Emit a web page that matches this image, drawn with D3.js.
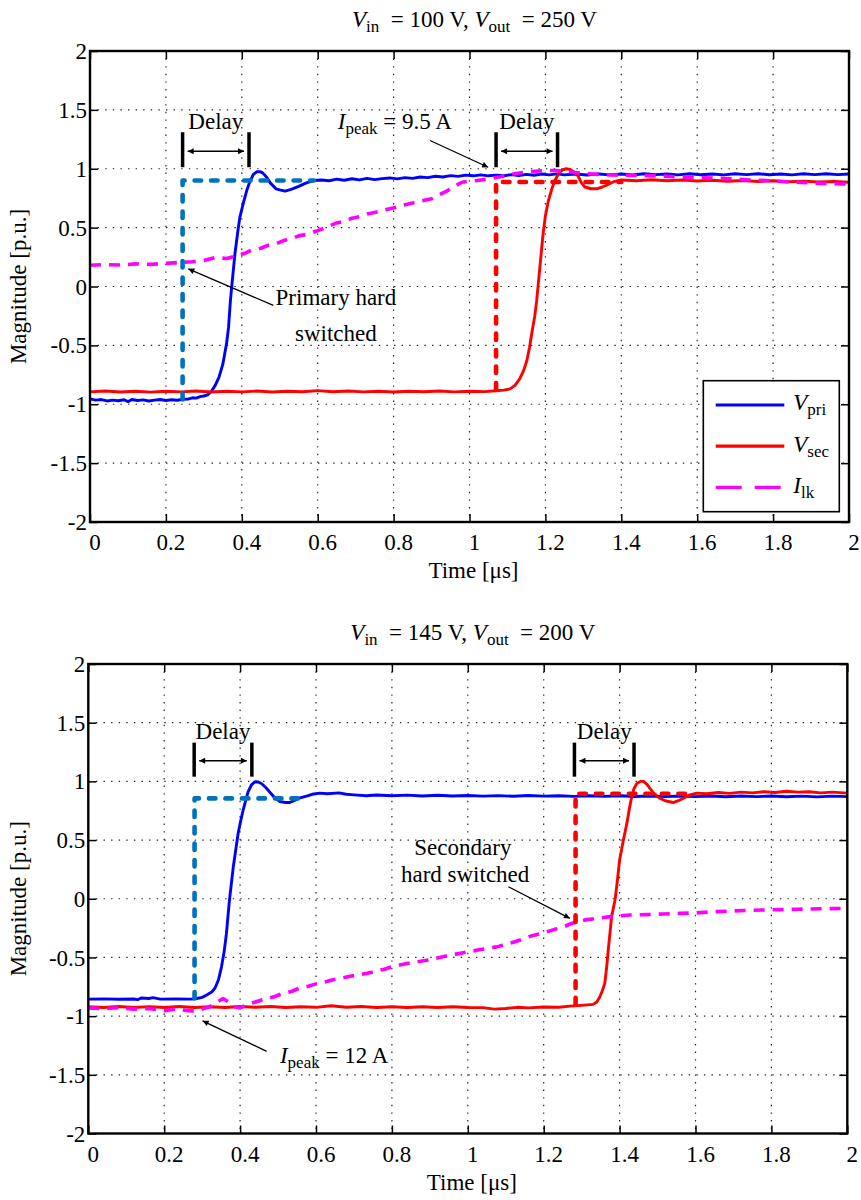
<!DOCTYPE html>
<html>
<head>
<meta charset="utf-8">
<script src="https://cdn.jsdelivr.net/npm/d3@7"></script>
<style>
  html, body { margin: 0; padding: 0; background: #fff; }
  svg { display: block; font-family: "Liberation Serif", "Times New Roman", serif; }
</style>
</head>
<body>
<svg id="fig" width="861" height="1200"></svg>
<script>
// ---- axis ticks ----
const xTicks = [0, 0.2, 0.4, 0.6, 0.8, 1, 1.2, 1.4, 1.6, 1.8, 2];
const yTicks = [-2, -1.5, -1, -0.5, 0, 0.5, 1, 1.5, 2];

// ---- operating points ----
const vinValues = [100, 145];
const voutValues = [250, 200];
const ipeakValues = [9.5, 12];

// ---- case 1: Vin = 100 V, Vout = 250 V  (time in us, magnitude in p.u.) ----
const topPri = [
  [0.00,-0.955],[0.015,-0.965],[0.03,-0.96],[0.045,-0.972],[0.06,-0.965],[0.075,-0.97],[0.09,-0.962],
  [0.10,-0.978],[0.11,-0.96],[0.125,-0.968],[0.14,-0.963],[0.155,-0.972],[0.17,-0.965],[0.185,-0.96],
  [0.20,-0.968],[0.215,-0.962],[0.23,-0.966],[0.245,-0.958],[0.26,-0.955],[0.27,-0.945],[0.28,-0.948],
  [0.29,-0.935],[0.30,-0.93],[0.31,-0.92],[0.32,-0.89],[0.33,-0.84],[0.34,-0.77],
  [0.35,-0.66],[0.36,-0.48],[0.365,-0.35],[0.37,-0.12],[0.375,0.05],[0.382,0.28],[0.39,0.48],
  [0.395,0.59],[0.405,0.72],[0.413,0.815],[0.42,0.88],[0.43,0.95],[0.44,0.975],[0.448,0.975],
  [0.455,0.965],[0.465,0.93],[0.475,0.88],[0.49,0.83],[0.50,0.82],[0.514,0.81],[0.53,0.825],
  [0.55,0.85],[0.57,0.88],[0.59,0.90],[0.61,0.905],[0.63,0.898],[0.65,0.912],[0.67,0.902],
  [0.69,0.915],[0.71,0.905],[0.73,0.918],[0.75,0.908],[0.77,0.916],[0.79,0.922],[0.81,0.914],
  [0.83,0.925],[0.85,0.918],[0.87,0.93],[0.89,0.925],[0.91,0.936],[0.93,0.93],[0.95,0.942],
  [0.97,0.935],[0.99,0.946],[1.01,0.94],[1.03,0.948],[1.05,0.94],[1.07,0.946],[1.09,0.94],
  [1.11,0.95],[1.13,0.943],[1.15,0.952],[1.17,0.945],[1.19,0.955],[1.21,0.948],[1.23,0.956],
  [1.25,0.948],[1.28,0.955],[1.31,0.947],[1.34,0.956],[1.37,0.948],[1.40,0.955],[1.43,0.947],
  [1.46,0.957],[1.49,0.95],[1.52,0.956],[1.55,0.948],[1.58,0.957],[1.61,0.949],[1.64,0.956],
  [1.67,0.948],[1.70,0.957],[1.73,0.95],[1.76,0.958],[1.79,0.949],[1.82,0.956],[1.85,0.948],
  [1.88,0.957],[1.91,0.95],[1.94,0.958],[1.97,0.95],[2.00,0.955]
];
const topSec = [
  [0.00,-0.895],[0.04,-0.888],[0.08,-0.896],[0.12,-0.89],[0.16,-0.897],[0.20,-0.889],[0.24,-0.895],
  [0.28,-0.888],[0.32,-0.896],[0.36,-0.89],[0.40,-0.895],[0.44,-0.888],[0.48,-0.896],[0.52,-0.89],
  [0.56,-0.894],[0.60,-0.884],[0.64,-0.894],[0.68,-0.888],[0.72,-0.895],[0.76,-0.89],[0.80,-0.896],
  [0.84,-0.889],[0.88,-0.894],[0.92,-0.888],[0.96,-0.895],[1.00,-0.89],[1.04,-0.893],
  [1.07,-0.885],[1.09,-0.88],[1.107,-0.87],[1.12,-0.84],[1.133,-0.78],[1.143,-0.71],
  [1.151,-0.63],[1.158,-0.52],[1.164,-0.40],[1.172,-0.25],[1.177,-0.12],[1.185,0.15],[1.194,0.45],
  [1.20,0.60],[1.208,0.73],[1.217,0.83],[1.225,0.90],[1.235,0.96],[1.245,0.99],[1.255,1.0],
  [1.265,0.995],[1.276,0.97],[1.286,0.94],[1.295,0.88],[1.304,0.845],[1.32,0.83],[1.335,0.83],
  [1.35,0.845],[1.361,0.86],[1.38,0.89],[1.40,0.905],[1.44,0.898],[1.48,0.906],[1.52,0.898],
  [1.56,0.904],[1.60,0.896],[1.64,0.902],[1.68,0.894],[1.72,0.9],[1.76,0.892],[1.80,0.898],
  [1.84,0.89],[1.88,0.895],[1.92,0.887],[1.96,0.892],[2.00,0.885]
];
const topLk = [
  [0.00,0.18],[0.04,0.186],[0.08,0.182],[0.12,0.192],[0.16,0.188],[0.20,0.196],[0.24,0.205],
  [0.27,0.21],[0.30,0.22],[0.33,0.245],[0.36,0.238],[0.38,0.255],[0.41,0.285],[0.43,0.315],
  [0.45,0.325],[0.47,0.35],[0.49,0.362],[0.51,0.39],[0.53,0.405],[0.55,0.43],[0.575,0.445],
  [0.60,0.475],[0.625,0.505],[0.65,0.54],[0.67,0.552],[0.69,0.58],[0.71,0.592],[0.73,0.615],
  [0.75,0.628],[0.77,0.645],[0.79,0.66],[0.81,0.675],[0.83,0.695],[0.85,0.71],[0.875,0.728],
  [0.90,0.745],[0.92,0.78],[0.94,0.81],[0.96,0.85],[0.98,0.885],[1.00,0.895],[1.02,0.90],
  [1.054,0.915],[1.085,0.935],[1.115,0.955],[1.14,0.968],[1.16,0.975],[1.20,0.985],[1.23,0.985],
  [1.26,0.975],[1.30,0.96],[1.35,0.95],[1.40,0.945],[1.45,0.942],[1.50,0.94],[1.55,0.93],
  [1.60,0.925],[1.65,0.92],[1.69,0.915],[1.74,0.905],[1.78,0.90],[1.82,0.892],[1.86,0.886],
  [1.93,0.875],[2.00,0.87]
];
const topPriGate = [[0.244,-0.96],[0.244,0.90],[0.59,0.90]];
const topSecGate = [[1.07,-0.875],[1.07,0.888],[1.40,0.888]];
const topDelays = [[0.244, 0.419], [1.07, 1.232]];

// ---- case 2: Vin = 145 V, Vout = 200 V ----
const botPri = [
  [0.00,-0.855],[0.04,-0.853],[0.08,-0.856],[0.12,-0.854],[0.13,-0.86],[0.14,-0.845],[0.16,-0.85],
  [0.17,-0.842],[0.19,-0.855],[0.23,-0.853],[0.27,-0.855],[0.286,-0.85],[0.30,-0.84],[0.312,-0.82],
  [0.325,-0.795],[0.334,-0.76],[0.343,-0.69],[0.351,-0.58],[0.358,-0.45],[0.364,-0.295],[0.368,-0.15],
  [0.372,-0.01],[0.377,0.13],[0.382,0.27],[0.39,0.45],[0.395,0.56],[0.402,0.67],[0.408,0.756],
  [0.415,0.84],[0.421,0.91],[0.43,0.97],[0.439,0.997],[0.448,0.995],[0.457,0.98],[0.467,0.95],
  [0.478,0.91],[0.49,0.865],[0.505,0.827],[0.52,0.82],[0.531,0.82],[0.545,0.84],[0.558,0.86],
  [0.575,0.875],[0.59,0.89],[0.61,0.90],[0.63,0.895],[0.66,0.902],[0.68,0.89],[0.70,0.885],
  [0.733,0.878],[0.76,0.884],[0.80,0.878],[0.84,0.883],[0.88,0.876],[0.92,0.882],[0.96,0.875],
  [1.00,0.88],[1.04,0.874],[1.08,0.879],[1.12,0.873],[1.16,0.88],[1.20,0.874],[1.24,0.878],
  [1.28,0.872],[1.32,0.878],[1.36,0.872],[1.40,0.877],[1.44,0.871],[1.48,0.876],[1.52,0.87],
  [1.56,0.876],[1.60,0.87],[1.64,0.875],[1.68,0.869],[1.72,0.875],[1.76,0.87],[1.80,0.875],
  [1.84,0.869],[1.88,0.874],[1.92,0.868],[1.96,0.874],[2.00,0.87]
];
const botSec = [
  [0.00,-0.92],[0.04,-0.926],[0.08,-0.918],[0.12,-0.927],[0.16,-0.919],[0.20,-0.926],[0.24,-0.918],
  [0.28,-0.927],[0.32,-0.92],[0.36,-0.926],[0.40,-0.918],[0.44,-0.925],[0.48,-0.918],[0.52,-0.926],
  [0.56,-0.92],[0.60,-0.925],[0.64,-0.912],[0.68,-0.924],[0.72,-0.918],[0.76,-0.926],[0.80,-0.92],
  [0.84,-0.926],[0.88,-0.92],[0.92,-0.927],[0.96,-0.92],[1.00,-0.926],[1.04,-0.928],[1.07,-0.94],
  [1.10,-0.935],[1.13,-0.925],[1.16,-0.93],[1.20,-0.922],[1.24,-0.924],[1.27,-0.915],[1.30,-0.908],
  [1.33,-0.90],[1.34,-0.88],[1.348,-0.835],[1.355,-0.78],[1.361,-0.72],[1.366,-0.58],[1.37,-0.44],
  [1.375,-0.28],[1.379,-0.15],[1.388,-0.01],[1.394,0.15],[1.40,0.33],[1.41,0.50],[1.419,0.64],
  [1.426,0.77],[1.432,0.87],[1.438,0.94],[1.445,0.98],[1.455,1.0],[1.463,1.0],[1.472,0.975],
  [1.48,0.94],[1.49,0.90],[1.506,0.856],[1.52,0.835],[1.541,0.82],[1.555,0.835],[1.568,0.856],
  [1.585,0.885],[1.603,0.90],[1.63,0.895],[1.66,0.905],[1.69,0.898],[1.72,0.908],[1.75,0.902],
  [1.78,0.912],[1.81,0.905],[1.84,0.916],[1.87,0.908],[1.90,0.912],[1.93,0.902],[1.96,0.908],
  [2.00,0.90]
];
const botLk = [
  [0.00,-0.93],[0.04,-0.937],[0.08,-0.928],[0.12,-0.94],[0.16,-0.935],[0.20,-0.955],[0.23,-0.94],
  [0.25,-0.948],[0.28,-0.958],[0.30,-0.94],[0.32,-0.92],[0.34,-0.88],[0.355,-0.85],[0.37,-0.88],
  [0.385,-0.92],[0.40,-0.93],[0.42,-0.90],[0.44,-0.88],[0.47,-0.85],[0.49,-0.835],[0.51,-0.81],
  [0.535,-0.79],[0.558,-0.76],[0.58,-0.745],[0.60,-0.725],[0.62,-0.712],[0.645,-0.69],[0.67,-0.675],
  [0.69,-0.66],[0.71,-0.65],[0.733,-0.636],[0.76,-0.615],[0.78,-0.60],[0.80,-0.58],[0.82,-0.565],
  [0.86,-0.54],[0.90,-0.52],[0.94,-0.49],[0.988,-0.46],[1.03,-0.435],[1.076,-0.41],[1.10,-0.39],
  [1.12,-0.37],[1.14,-0.35],[1.164,-0.32],[1.19,-0.30],[1.21,-0.28],[1.23,-0.26],[1.252,-0.24],
  [1.27,-0.215],[1.287,-0.196],[1.31,-0.18],[1.34,-0.167],[1.38,-0.15],[1.427,-0.139],[1.47,-0.135],
  [1.514,-0.13],[1.56,-0.125],[1.603,-0.12],[1.65,-0.11],[1.69,-0.105],[1.73,-0.10],[1.777,-0.096],
  [1.82,-0.093],[1.866,-0.09],[1.93,-0.085],[2.00,-0.082]
];
const botPriGate = [[0.28,-0.85],[0.28,0.855],[0.575,0.855]];
const botSecGate = [[1.284,-0.90],[1.284,0.895],[1.58,0.895]];
const botDelays = [[0.279, 0.431], [1.281, 1.438]];

// ---- styling ----
const FONT = 23, SUB = 17;
const C_PRI = "#0000ff", C_SEC = "#ff0000", C_LK = "#ff00ff", C_GATE = "#0072bd";

const svg = d3.select("#fig");
const defs = svg.append("defs");
defs.append("marker").attr("id", "arr")
  .attr("viewBox", "0 0 10 10").attr("refX", 10).attr("refY", 5)
  .attr("markerUnits", "userSpaceOnUse").attr("markerWidth", 9).attr("markerHeight", 6)
  .attr("orient", "auto-start-reverse")
  .append("path").attr("d", "M0,0L10,5L0,10z").attr("fill", "#000");

// text with italic symbols and subscripts
function richText(parent, x, y, segs, anchor) {
  const t = parent.append("text").attr("x", x).attr("y", y)
    .attr("text-anchor", anchor || "start").attr("font-size", FONT)
    .style("white-space", "pre").attr("fill", "#000");
  let shift = 0;
  segs.forEach(s => {
    const ts = t.append("tspan").text(s.t);
    if (s.i) ts.attr("font-style", "italic");
    if (s.sub) { ts.attr("font-size", SUB).attr("dy", 5 - shift); shift = 5; }
    else if (shift) { ts.attr("dy", -shift); shift = 0; }
  });
  return t;
}

function drawPanel(p) {
  const g = svg.append("g").attr("transform", `translate(${p.left},${p.top})`);
  const x = d3.scaleLinear().domain([0, 2]).range([0, p.width]);
  const y = d3.scaleLinear().domain([-2, 2]).range([p.height, 0]);

  // dotted grid
  const grid = g.append("g").attr("stroke", "#222").attr("stroke-width", 1.2)
    .attr("stroke-dasharray", "1.4,6.2");
  grid.selectAll(".gx").data(xTicks.slice(1, -1)).join("line")
    .attr("x1", d => x(d)).attr("x2", d => x(d)).attr("y1", 0).attr("y2", p.height);
  grid.selectAll(".gy").data(yTicks.slice(1, -1)).join("line")
    .attr("y1", d => y(d)).attr("y2", d => y(d)).attr("x1", 0).attr("x2", p.width);

  // axes with inward ticks on all sides
  const fmt = d => String(d);
  const axB = g.append("g").attr("transform", `translate(0,${p.height})`)
    .call(d3.axisBottom(x).tickValues(xTicks).tickSize(-8).tickFormat(fmt));
  axB.selectAll("text").attr("x", 4.5).attr("y", 28).attr("dy", null);
  const axL = g.append("g")
    .call(d3.axisLeft(y).tickValues(yTicks).tickSize(-8).tickFormat(fmt));
  axL.selectAll("text").attr("x", -3).attr("dy", "0.33em");
  g.append("g").call(d3.axisTop(x).tickValues(xTicks).tickSize(-8).tickFormat(""));
  g.append("g").attr("transform", `translate(${p.width},0)`)
    .call(d3.axisRight(y).tickValues(yTicks).tickSize(-8).tickFormat(""));
  g.selectAll(".domain").remove();
  g.selectAll(".tick line").attr("stroke", "#000").attr("stroke-width", 1.5);
  g.selectAll(".tick text").attr("font-size", FONT).attr("fill", "#000");
  g.selectAll("g").filter(function () { return this.hasAttribute("font-family"); })
    .attr("font-family", null).attr("font-size", null);

  // traces
  const line = d3.line().x(d => x(d[0])).y(d => y(d[1]));
  const tr = g.append("g").attr("fill", "none").attr("stroke-linejoin", "round");
  tr.append("path").datum(p.pri).attr("d", line).attr("stroke", C_PRI).attr("stroke-width", 2.9);
  tr.append("path").datum(p.sec).attr("d", line).attr("stroke", C_SEC).attr("stroke-width", 2.9);
  tr.append("path").datum(p.lk).attr("d", line).attr("stroke", C_LK).attr("stroke-width", 3.6)
    .attr("stroke-dasharray", "11,8");
  tr.append("path").datum(p.priGate).attr("d", line).attr("stroke", C_GATE).attr("stroke-width", 4.6)
    .attr("stroke-dasharray", "6.5,10").attr("stroke-linecap", "round");
  tr.append("path").datum(p.secGate).attr("d", line).attr("stroke", C_SEC).attr("stroke-width", 4.6)
    .attr("stroke-dasharray", "6.5,10").attr("stroke-linecap", "round");

  // delay markers
  const an = g.append("g");
  p.delays.forEach(([t0, t1]) => {
    [t0, t1].forEach(t => an.append("line")
      .attr("x1", x(t)).attr("x2", x(t)).attr("y1", y(p.barLo)).attr("y2", y(p.barHi))
      .attr("stroke", "#000").attr("stroke-width", 3.5));
    an.append("line").attr("x1", x(t0) + 5).attr("x2", x(t1) - 5)
      .attr("y1", y(p.arrowV)).attr("y2", y(p.arrowV))
      .attr("stroke", "#000").attr("stroke-width", 1.5)
      .attr("marker-start", "url(#arr)").attr("marker-end", "url(#arr)");
    an.append("text").attr("x", (x(t0) + x(t1)) / 2).attr("y", y(p.textV))
      .attr("text-anchor", "middle").attr("font-size", FONT).text("Delay");
  });

  // annotation arrows and notes
  p.arrows.forEach(a => an.append("line")
    .attr("x1", x(a[0])).attr("y1", y(a[1])).attr("x2", x(a[2])).attr("y2", y(a[3]))
    .attr("stroke", "#000").attr("stroke-width", 1.3).attr("marker-end", "url(#arr)"));
  p.notes.forEach(n => {
    if (n.segs) richText(an, x(n.t), y(n.v), n.segs, n.anchor);
    else an.append("text").attr("x", x(n.t)).attr("y", y(n.v)).attr("text-anchor", n.anchor || "middle")
      .attr("font-size", FONT).text(n.text);
  });

  // frame
  g.append("rect").attr("width", p.width).attr("height", p.height)
    .attr("fill", "none").attr("stroke", "#000").attr("stroke-width", 2.4);

  // titles and labels
  richText(svg, p.left + p.width / 2 + 5, p.top - 24, [
    { t: "V", i: 1 }, { t: "in", sub: 1 }, { t: "  = " + p.vin + " V, " },
    { t: "V", i: 1 }, { t: "out", sub: 1 }, { t: "  = " + p.vout + " V" }
  ], "middle");
  svg.append("text").attr("x", p.left + p.width / 2 + 4).attr("y", p.top + p.height + 56)
    .attr("text-anchor", "middle").attr("font-size", FONT).text("Time [\u03bcs]");
  svg.append("text").attr("transform", `translate(26,${p.top + p.height / 2}) rotate(-90)`)
    .attr("text-anchor", "middle").attr("font-size", FONT).text("Magnitude [p.u.]");

  return { g, x, y };
}

const topPanel = drawPanel({
  left: 90, top: 51, width: 759, height: 471,
  vin: vinValues[0], vout: voutValues[0],
  pri: topPri, sec: topSec, lk: topLk, priGate: topPriGate, secGate: topSecGate,
  delays: topDelays, barLo: 1.013, barHi: 1.31, arrowV: 1.149, textV: 1.34,
  arrows: [[0.896, 1.24, 1.049, 1.013], [0.483, -0.161, 0.259, 0.15]],
  notes: [
    { t: 0.653, v: 1.34, segs: [{ t: "I", i: 1 }, { t: "peak", sub: 1 }, { t: " = " + ipeakValues[0] + " A" }] },
    { t: 0.648, v: -0.161, text: "Primary hard" },
    { t: 0.648, v: -0.467, text: "switched" }
  ]
});

drawPanel({
  left: 88.3, top: 664, width: 759, height: 469.5,
  vin: vinValues[1], vout: voutValues[1],
  pri: botPri, sec: botSec, lk: botLk, priGate: botPriGate, secGate: botSecGate,
  delays: botDelays, barLo: 1.04, barHi: 1.33, arrowV: 1.176, textV: 1.359,
  arrows: [[1.107, 0.102, 1.269, -0.167], [0.47, -1.30, 0.301, -1.04]],
  notes: [
    { t: 0.987, v: 0.372, text: "Secondary" },
    { t: 0.993, v: 0.145, text: "hard switched" },
    { t: 0.505, v: -1.403, segs: [{ t: "I", i: 1 }, { t: "peak", sub: 1 }, { t: " = " + ipeakValues[1] + " A" }] }
  ]
});

// legend (first panel)
const legendItems = [
  { sym: "V", sub: "pri", color: C_PRI, dash: null },
  { sym: "V", sub: "sec", color: C_SEC, dash: null },
  { sym: "I", sub: "lk", color: C_LK, dash: "26,13" }
];
const lg = topPanel.g.append("g").attr("transform", "translate(613.3,329.7)");
lg.append("rect").attr("width", 136).attr("height", 131)
  .attr("fill", "#fff").attr("stroke", "#000").attr("stroke-width", 1.6);
legendItems.forEach((d, i) => {
  const yy = 24.3 + i * 41.2;
  lg.append("line").attr("x1", 12.4).attr("x2", 81).attr("y1", yy).attr("y2", yy)
    .attr("stroke", d.color).attr("stroke-width", 3.2)
    .attr("stroke-dasharray", d.dash);
  richText(lg, 90, yy + 5.5, [{ t: d.sym, i: 1 }, { t: d.sub, sub: 1 }]);
});
</script>
</body>
</html>
